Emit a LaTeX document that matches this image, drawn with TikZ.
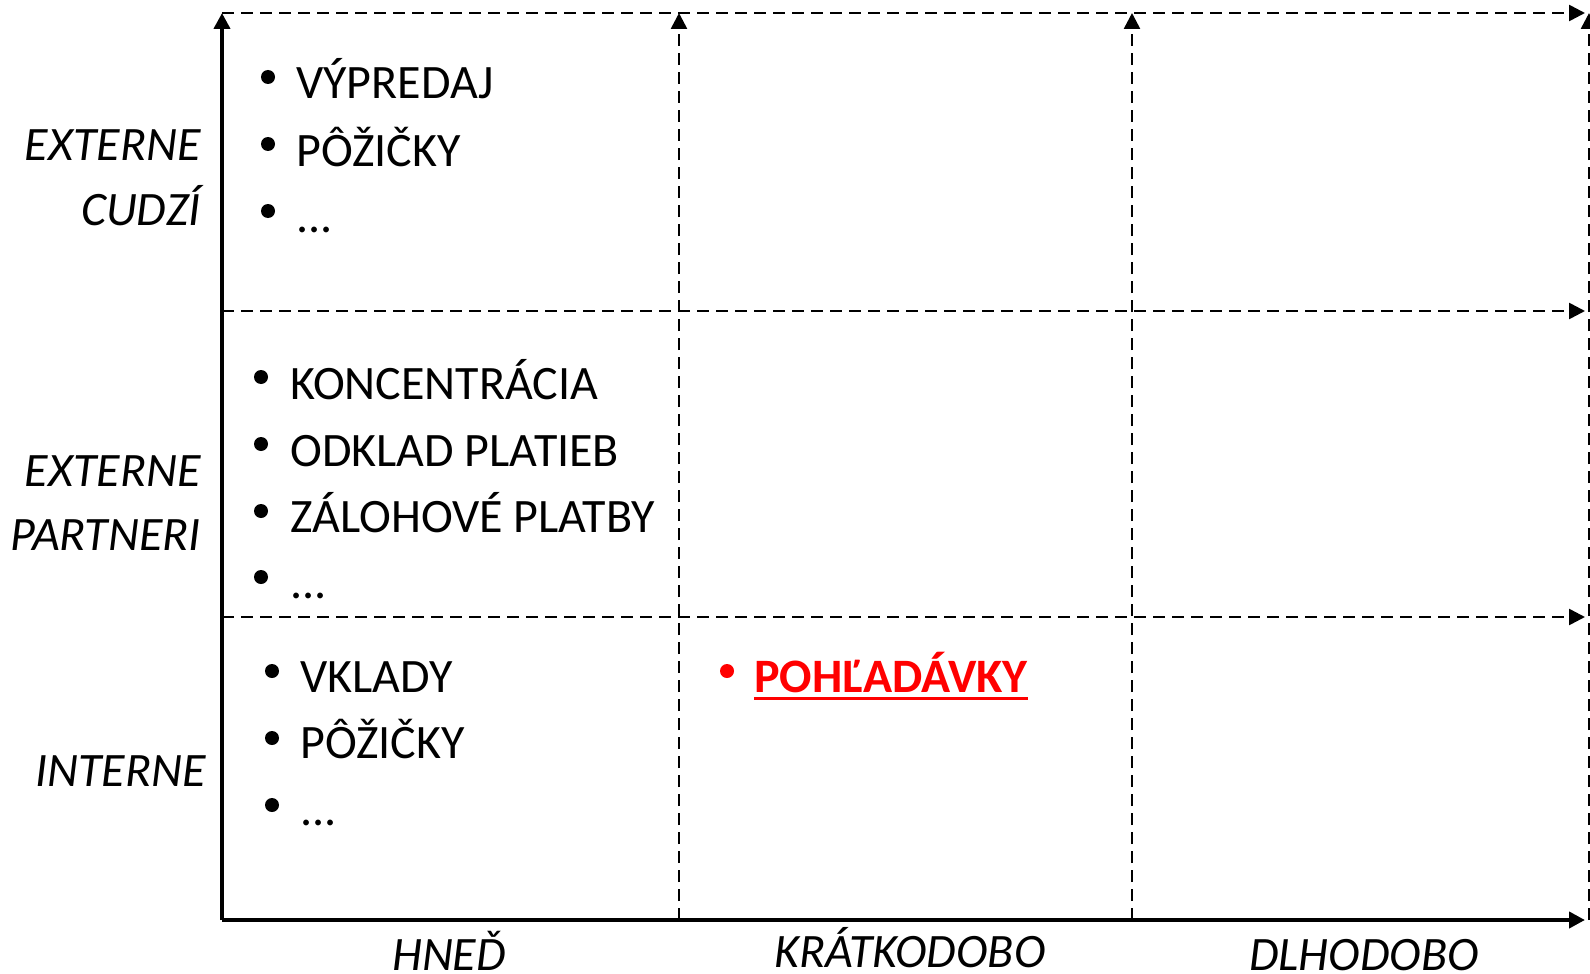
\documentclass[tikz,border=0pt]{standalone}
\usepackage{fontspec}
\setmainfont{Carlito}
\usetikzlibrary{arrows.meta}
\definecolor{hot}{RGB}{255,0,0}
\tikzset{
  x=0.5pt, y=-0.5pt,
  axis/.style={line width=2.3pt, -{Triangle[length=8pt,width=8pt]}},
  grid/.style={line width=1.3pt, dash pattern=on 6pt off 3.5pt, -{Triangle[length=8pt,width=8pt]}},
  item/.style={anchor=base west, inner sep=0pt, font=\fontsize{24pt}{28pt}\selectfont},
  lab/.style={anchor=base east, inner sep=0pt, font=\fontsize{24pt}{28pt}\selectfont\itshape},
  blab/.style={anchor=base, inner sep=0pt, font=\fontsize{24pt}{28pt}\selectfont\itshape},
  dot/.style={circle, fill, inner sep=0pt, minimum size=7pt}
}
\begin{document}
\begin{tikzpicture}
\useasboundingbox (0,0) rectangle (1590,974);
% coordinates
\coordinate (O) at (222,920);
\coordinate (Ytop) at (222,13);
\coordinate (Xend) at (1585,920);
\coordinate (v1b) at (679,920); \coordinate (v1t) at (679,13);
\coordinate (v2b) at (1132,920); \coordinate (v2t) at (1132,13);
\coordinate (v3b) at (1589,920); \coordinate (v3t) at (1589,13);
\coordinate (h1a) at (222,13); \coordinate (h1b) at (1585,13);
\coordinate (h2a) at (222,311); \coordinate (h2b) at (1585,311);
\coordinate (h3a) at (222,617); \coordinate (h3b) at (1585,617);
% grid
\draw[grid] (v1b) -- (v1t);
\draw[grid] (v2b) -- (v2t);
\draw[grid] (v3b) -- (v3t);
\draw[grid] (h1a) -- (h1b);
\draw[grid] (h2a) -- (h2b);
\draw[grid] (h3a) -- (h3b);
% axes
\draw[axis] (O) -- (Ytop);
\draw[axis] (O) -- (Xend);
% left labels
\node[lab] (l1) at (201,161) {EXTERNE};
\node[lab] (l2) at (201,225) {CUDZÍ};
\node[lab] (l3) at (201,486) {EXTERNE};
\node[lab] (l4) at (201,550) {PARTNERI};
\node[lab] (l5) at (206,786) {INTERNE};
% bottom labels
\node[blab] (b1) at (449,970) {HNEĎ};
\node[blab] (b2) at (910,967) {KRÁTKODOBO};
\node[blab] (b3) at (1364,970) {DLHODOBO};
% top cell
\node[dot] (d1) at (268,77) {};
\node[item] (t1) at (296,99) {VÝPREDAJ};
\node[dot] (d2) at (268,144) {};
\node[item] (t2) at (296,166) {PÔŽIČKY};
\node[dot] (d3) at (268,211) {};
\node[item] (t3) at (296,232) {...};
% middle cell
\node[dot] (d4) at (261,377) {};
\node[item] (m1) at (290,399) {KONCENTRÁCIA};
\node[dot] (d5) at (261,444) {};
\node[item] (m2) at (290,466) {ODKLAD PLATIEB};
\node[dot] (d6) at (261,511) {};
\node[item] (m3) at (290,532) {ZÁLOHOVÉ PLATBY};
\node[dot] (d7) at (261,577) {};
\node[item] (m4) at (290,598) {...};
% bottom cell
\node[dot] (d8) at (272,671) {};
\node[item] (n1) at (300,692) {VKLADY};
\node[dot] (d9) at (272,738) {};
\node[item] (n2) at (300,758) {PÔŽIČKY};
\node[dot] (d10) at (272,805) {};
\node[item] (n3) at (300,825) {...};
% red item
\node[dot, fill=hot] (d11) at (727,671) {};
\node[item, text=hot, font=\fontsize{24pt}{28pt}\selectfont\bfseries] (r) at (754,692) {POHĽADÁVKY};
\draw[hot, line width=1.5pt] ([yshift=-3pt]r.base west) -- ([yshift=-3pt]r.base east);
\end{tikzpicture}
\end{document}
